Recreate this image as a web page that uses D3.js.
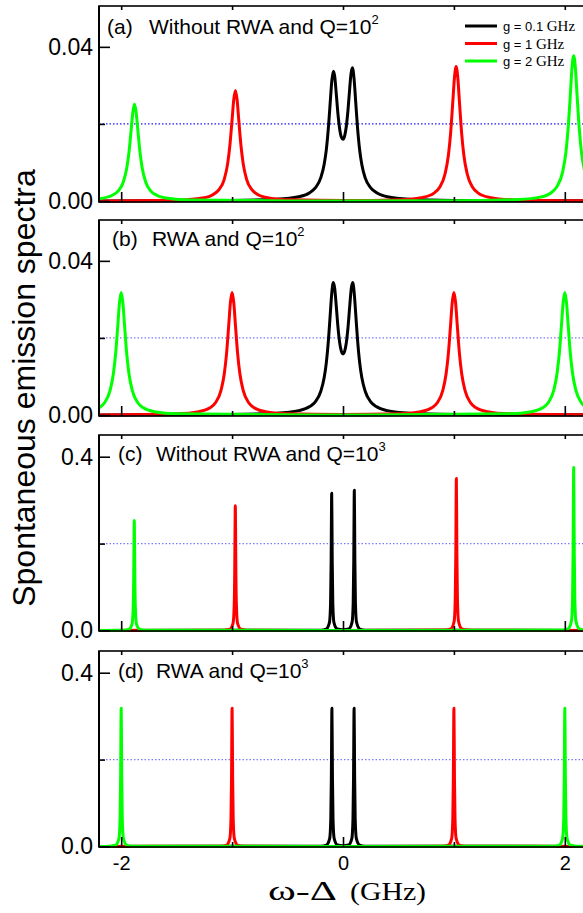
<!DOCTYPE html>
<html><head><meta charset="utf-8">
<script src="https://cdn.jsdelivr.net/npm/d3@7"></script>
<style>body{margin:0;background:#fff;} svg{display:block;}</style>
</head><body>
<svg id="chart" width="583" height="913"></svg>
<script>
// ---------------- data ----------------
const seriesLabels = ["g = 0.1 ", "g = 1 ", "g = 2 "];
const seriesUnit = "GHz";
const seriesColors = ["#000000", "#ff0000", "#00ff00"];
const panelTags = ["(a)", "(b)", "(c)", "(d)"];
const panelTexts = ["Without RWA and Q=10", "RWA and Q=10", "Without RWA and Q=10", "RWA and Q=10"];
const panelExps = ["2", "2", "3", "3"];
const xMajorTicks = [-2, 0, 2];
const xMinorTicks = [-1, 1];
const yTicksQ2 = [0, 0.04];
const yTicksQ3 = [0, 0.4];
const yRefQ2 = 0.02;
const yRefQ3 = 0.2;

// (a) Without RWA, Q=10^2
const aBlack = [[-2.2,0.00003],[-1.0,0.00016],[-0.6,0.00046],[-0.4,0.00112],[-0.3,0.00216],[-0.25,0.00338],[-0.2,0.00607],[-0.17,0.0095],[-0.15,0.0134],[-0.13,0.0196],[-0.115,0.0257],[-0.1,0.0314],[-0.087,0.0337],[-0.075,0.0324],[-0.06,0.0276],[-0.045,0.0224],[-0.03,0.0187],[-0.015,0.0166],[0,0.0160],[0.015,0.0169],[0.03,0.0194],[0.045,0.0236],[0.06,0.0290],[0.072,0.0330],[0.085,0.0346],[0.1,0.0316],[0.115,0.0255],[0.13,0.0194],[0.15,0.0133],[0.17,0.0094],[0.2,0.0060],[0.25,0.0034],[0.3,0.0022],[0.4,0.0011],[0.6,0.00046],[1.0,0.00016],[2.2,0.00003]];
const aRed = [[-2.2,0.00003],[-1.47,0.00028],[-1.27,0.00077],[-1.17,0.0017],[-1.12,0.0029],[-1.07,0.0057],[-1.04,0.0097],[-1.02,0.0144],[-1.0,0.0211],[-0.985,0.0263],[-0.97,0.0287],[-0.955,0.0263],[-0.94,0.0211],[-0.92,0.0144],[-0.9,0.0097],[-0.87,0.0057],[-0.82,0.0029],[-0.77,0.0017],[-0.67,0.0008],[-0.47,0.0003],[0.02,0.0001],[0.52,0.00035],[0.72,0.00094],[0.82,0.00205],[0.87,0.0035],[0.92,0.007],[0.95,0.0118],[0.97,0.0175],[0.99,0.0257],[1.005,0.032],[1.02,0.0349],[1.035,0.032],[1.05,0.0257],[1.07,0.0175],[1.09,0.0118],[1.12,0.007],[1.17,0.0035],[1.22,0.00205],[1.32,0.00094],[1.52,0.00035],[2.2,0.00005]];
const aGreen = [[-2.2,0.0006],[-2.08,0.0015],[-2.03,0.0025],[-1.98,0.005],[-1.95,0.0085],[-1.93,0.01255],[-1.91,0.01845],[-1.895,0.023],[-1.88,0.0251],[-1.865,0.023],[-1.85,0.01845],[-1.83,0.01255],[-1.81,0.0085],[-1.78,0.005],[-1.73,0.0025],[-1.68,0.0015],[-1.58,0.0007],[-1.38,0.00025],[-0.5,0.00003],[1.0,0.00005],[1.58,0.00037],[1.78,0.001],[1.88,0.0022],[1.93,0.0038],[1.98,0.0075],[2.01,0.0127],[2.03,0.0189],[2.05,0.0277],[2.065,0.0346],[2.08,0.0377],[2.095,0.0346],[2.11,0.0277],[2.13,0.0189],[2.15,0.0127],[2.18,0.0075],[2.23,0.0038],[2.28,0.0022]];

// (b) RWA, Q=10^2
const bBlack = [[-2.2,0.00003],[-1.0,0.00016],[-0.6,0.00047],[-0.4,0.00113],[-0.3,0.00219],[-0.25,0.00343],[-0.2,0.00616],[-0.17,0.00965],[-0.15,0.01367],[-0.13,0.01995],[-0.115,0.0261],[-0.1,0.0320],[-0.087,0.0344],[-0.075,0.0329],[-0.06,0.0280],[-0.045,0.0227],[-0.03,0.01879],[-0.015,0.01656],[0,0.01584],[0.015,0.01656],[0.03,0.01879],[0.045,0.0227],[0.06,0.0280],[0.075,0.0329],[0.087,0.0344],[0.1,0.0320],[0.115,0.0261],[0.13,0.01995],[0.15,0.01367],[0.17,0.00965],[0.2,0.00616],[0.25,0.00343],[0.3,0.00219],[0.4,0.00113],[0.6,0.00047],[1.0,0.00016],[2.2,0.00003]];
const bRed = [[-2.2,0.00003],[-1.5,0.00031],[-1.3,0.00086],[-1.2,0.00187],[-1.15,0.00318],[-1.1,0.00636],[-1.07,0.01075],[-1.05,0.0159],[-1.03,0.0234],[-1.015,0.0292],[-1.0,0.0318],[-0.985,0.0292],[-0.97,0.0234],[-0.95,0.0159],[-0.93,0.01075],[-0.9,0.00636],[-0.85,0.00318],[-0.8,0.00187],[-0.7,0.00086],[-0.5,0.00031],[0,0.0001],[0.5,0.00031],[0.7,0.00086],[0.8,0.00187],[0.85,0.00318],[0.9,0.00636],[0.93,0.01075],[0.95,0.0159],[0.97,0.0234],[0.985,0.0292],[1.0,0.0318],[1.015,0.0292],[1.03,0.0234],[1.05,0.0159],[1.07,0.01075],[1.1,0.00636],[1.15,0.00318],[1.2,0.00187],[1.3,0.00086],[1.5,0.00031],[2.2,0.00003]];
const bGreen = [[-2.3,0.00086],[-2.2,0.00187],[-2.15,0.00318],[-2.1,0.00636],[-2.07,0.01075],[-2.05,0.0159],[-2.03,0.0234],[-2.015,0.0292],[-2.0,0.0318],[-1.985,0.0292],[-1.97,0.0234],[-1.95,0.0159],[-1.93,0.01075],[-1.9,0.00636],[-1.85,0.00318],[-1.8,0.00187],[-1.7,0.00086],[-1.5,0.00031],[0,0.00002],[1.5,0.00031],[1.7,0.00086],[1.8,0.00187],[1.85,0.00318],[1.9,0.00636],[1.93,0.01075],[1.95,0.0159],[1.97,0.0234],[1.985,0.0292],[2.0,0.0318],[2.015,0.0292],[2.03,0.0234],[2.05,0.0159],[2.07,0.01075],[2.1,0.00636],[2.15,0.00318],[2.2,0.00187],[2.3,0.00086]];

// (c) Without RWA, Q=10^3
const cBlack = [[-2.2,0.0001],[-0.202,0.0008],[-0.152,0.0031],[-0.122,0.0186],[-0.112,0.0632],[-0.107,0.158],[-0.105,0.232],[-0.102,0.316],[-0.099,0.232],[-0.097,0.158],[-0.092,0.0632],[-0.082,0.0186],[-0.052,0.0033],[0,0.0016],[0.052,0.0034],[0.082,0.019],[0.092,0.0646],[0.097,0.1615],[0.099,0.237],[0.102,0.323],[0.105,0.237],[0.107,0.1615],[0.112,0.0646],[0.122,0.019],[0.152,0.0032],[0.202,0.0008],[2.2,0.0001]];
const cRed = [[-2.2,0.0001],[-1.071,0.0007],[-1.021,0.0028],[-0.991,0.0169],[-0.981,0.0574],[-0.976,0.1435],[-0.974,0.211],[-0.971,0.287],[-0.968,0.211],[-0.966,0.1435],[-0.961,0.0574],[-0.951,0.0169],[-0.921,0.0028],[-0.871,0.0007],[0,0.0001],[0.922,0.0009],[0.972,0.0035],[1.002,0.0206],[1.012,0.070],[1.017,0.175],[1.019,0.257],[1.022,0.350],[1.025,0.257],[1.027,0.175],[1.032,0.070],[1.042,0.0206],[1.072,0.0035],[1.122,0.0009],[2.2,0.0001]];
const cGreen = [[-2.2,0.0001],[-1.982,0.0006],[-1.932,0.0025],[-1.902,0.0149],[-1.892,0.0506],[-1.887,0.1265],[-1.885,0.186],[-1.882,0.253],[-1.879,0.186],[-1.877,0.1265],[-1.872,0.0506],[-1.862,0.0149],[-1.832,0.0025],[-1.782,0.0006],[0,0.0001],[1.98,0.0009],[2.03,0.0037],[2.06,0.022],[2.07,0.075],[2.075,0.1875],[2.077,0.276],[2.08,0.375],[2.083,0.276],[2.085,0.1875],[2.09,0.075],[2.1,0.022],[2.13,0.0037],[2.18,0.0009],[2.2,0.0006]];

// (d) RWA, Q=10^3
const dBlack = [[-2.2,0.0001],[-0.2,0.0008],[-0.15,0.0031],[-0.12,0.0187],[-0.11,0.0636],[-0.105,0.159],[-0.103,0.234],[-0.1,0.318],[-0.097,0.234],[-0.095,0.159],[-0.09,0.0636],[-0.08,0.0187],[-0.05,0.0033],[0,0.0016],[0.05,0.0033],[0.08,0.0187],[0.09,0.0636],[0.095,0.159],[0.097,0.234],[0.1,0.318],[0.103,0.234],[0.105,0.159],[0.11,0.0636],[0.12,0.0187],[0.15,0.0031],[0.2,0.0008],[2.2,0.0001]];
const dRed = [[-2.2,0.0001],[-1.1,0.0008],[-1.05,0.0031],[-1.02,0.0187],[-1.01,0.0636],[-1.005,0.159],[-1.003,0.234],[-1.0,0.318],[-0.997,0.234],[-0.995,0.159],[-0.99,0.0636],[-0.98,0.0187],[-0.95,0.0031],[-0.9,0.0008],[0,0.0001],[0.9,0.0008],[0.95,0.0031],[0.98,0.0187],[0.99,0.0636],[0.995,0.159],[0.997,0.234],[1.0,0.318],[1.003,0.234],[1.005,0.159],[1.01,0.0636],[1.02,0.0187],[1.05,0.0031],[1.1,0.0008],[2.2,0.0001]];
const dGreen = [[-2.2,0.0002],[-2.1,0.0008],[-2.05,0.0031],[-2.02,0.0187],[-2.01,0.0636],[-2.005,0.159],[-2.003,0.234],[-2.0,0.318],[-1.997,0.234],[-1.995,0.159],[-1.99,0.0636],[-1.98,0.0187],[-1.95,0.0031],[-1.9,0.0008],[0,0.0001],[1.9,0.0008],[1.95,0.0031],[1.98,0.0187],[1.99,0.0636],[1.995,0.159],[1.997,0.234],[2.0,0.318],[2.003,0.234],[2.005,0.159],[2.01,0.0636],[2.02,0.0187],[2.05,0.0031],[2.1,0.0008],[2.2,0.0002]];

// ---------------- layout ----------------
const svg = d3.select("#chart");
const plotLeft = 99, plotRight = 587, panelH = 196;
const panelTops = [6, 220, 435, 651];
const x = d3.scaleLinear().domain([-2.2, 2.2]).range([plotLeft, plotRight]);

const panels = [
  {series: [aBlack, aRed, aGreen], yDom: [-0.00026, 0.0506], ticks: yTicksQ2, ref: yRefQ2, fmt: d3.format(".2f"), refColor: "#1a1aff", tagX: 107, textX: 149, base: 34},
  {series: [bBlack, bRed, bGreen], yDom: [-0.00026, 0.0506], ticks: yTicksQ2, ref: yRefQ2, fmt: d3.format(".2f"), refColor: "#7a7aff", tagX: 112, textX: 152, base: 246},
  {series: [cBlack, cRed, cGreen], yDom: [-0.0012, 0.45], ticks: yTicksQ3, ref: yRefQ3, fmt: d3.format(".1f"), refColor: "#7a7aff", tagX: 118, textX: 156, base: 461},
  {series: [dBlack, dRed, dGreen], yDom: [-0.0012, 0.45], ticks: yTicksQ3, ref: yRefQ3, fmt: d3.format(".1f"), refColor: "#7a7aff", tagX: 118, textX: 156, base: 678}
];

const sans = "'Liberation Sans', Arial, sans-serif";
const serif = "'Liberation Serif', 'Times New Roman', serif";

svg.append("defs").append("clipPath").attr("id", "clip")
  .append("rect").attr("x", plotLeft).attr("y", 0).attr("width", plotRight - plotLeft).attr("height", 913);

panels.forEach((p, i) => {
  const top = panelTops[i];
  const y = d3.scaleLinear().domain(p.yDom).range([top + panelH, top]);
  const g = svg.append("g");

  // dotted reference line
  g.append("line")
    .attr("x1", plotLeft).attr("x2", plotRight)
    .attr("y1", y(p.ref)).attr("y2", y(p.ref))
    .attr("stroke", p.refColor).attr("stroke-width", 1.2)
    .attr("stroke-dasharray", "1.5,2");

  // curves
  const line = d3.line().x(d => x(d[0])).y(d => y(d[1])).curve(d3.curveMonotoneX);
  const cg = g.append("g").attr("clip-path", "url(#clip)");
  p.series.forEach((s, k) => {
    cg.append("path").datum(s).attr("d", line)
      .attr("fill", "none").attr("stroke", seriesColors[k])
      .attr("stroke-width", 3).attr("stroke-linejoin", "round");
  });

  // axes
  const axStyle = sel => {
    sel.select(".domain").remove();
    sel.selectAll(".tick line").attr("stroke", "#000").attr("stroke-width", 1.6);
    sel.selectAll("text").attr("fill", "#000").attr("font-family", sans);
  };
  g.append("g").attr("transform", `translate(${plotLeft},0)`)
    .call(d3.axisLeft(y).tickValues(p.ticks).tickSize(-11).tickPadding(6).tickFormat(p.fmt))
    .call(axStyle).call(s => s.selectAll("text").attr("font-size", 23));
  g.append("g").attr("transform", `translate(${plotLeft},0)`)
    .call(d3.axisLeft(y).tickValues([p.ref]).tickSize(-6).tickFormat(""))
    .call(axStyle);
  g.append("g").attr("transform", `translate(0,${top + panelH})`)
    .call(d3.axisBottom(x).tickValues(xMajorTicks).tickSize(-10).tickPadding(9)
      .tickFormat(i === 3 ? (d => String(d)) : ""))
    .call(axStyle).call(s => s.selectAll("text").attr("font-size", 20));
  g.append("g").attr("transform", `translate(0,${top + panelH})`)
    .call(d3.axisBottom(x).tickValues(xMinorTicks).tickSize(-5).tickFormat(""))
    .call(axStyle);
  g.append("g").attr("transform", `translate(0,${top})`)
    .call(d3.axisTop(x).tickValues(xMajorTicks.concat(xMinorTicks)).tickSize(-4).tickFormat(""))
    .call(axStyle);

  // frame
  g.append("rect").attr("x", plotLeft).attr("y", top)
    .attr("width", plotRight - plotLeft).attr("height", panelH)
    .attr("fill", "none").attr("stroke", "#000").attr("stroke-width", 1.6);
  g.append("line").attr("x1", plotLeft).attr("x2", plotLeft)
    .attr("y1", top).attr("y2", top + panelH).attr("stroke", "#000").attr("stroke-width", 2);

  // panel title
  g.append("text").attr("x", p.tagX).attr("y", p.base)
    .attr("font-family", sans).attr("font-size", 21).text(panelTags[i]);
  const t = g.append("text").attr("x", p.textX).attr("y", p.base)
    .attr("font-family", sans).attr("font-size", 21);
  t.append("tspan").text(panelTexts[i]);
  t.append("tspan").attr("dy", -10).attr("font-size", 13).text(panelExps[i]);
});

// legend (panel a)
const legY = [26, 43.5, 61];
seriesLabels.forEach((lab, k) => {
  svg.append("line").attr("x1", 465).attr("x2", 497).attr("y1", legY[k]).attr("y2", legY[k])
    .attr("stroke", seriesColors[k]).attr("stroke-width", 3);
  const t = svg.append("text").attr("x", 503).attr("y", legY[k] + 5);
  t.append("tspan").attr("font-family", sans).attr("font-size", 13).text(lab);
  t.append("tspan").attr("font-family", serif).attr("font-size", 15).text(seriesUnit);
});

// axis titles
svg.append("text")
  .attr("transform", "translate(35,388) rotate(-90)")
  .attr("text-anchor", "middle")
  .attr("font-family", sans).attr("font-size", 32)
  .text("Spontaneous emission spectra");

svg.append("text").attr("x", 268).attr("y", 900)
  .attr("font-family", serif).attr("font-size", 28)
  .attr("textLength", 69).attr("lengthAdjust", "spacingAndGlyphs")
  .text("ω-Δ");
svg.append("text").attr("x", 350).attr("y", 900)
  .attr("font-family", serif).attr("font-size", 25)
  .attr("textLength", 76).attr("lengthAdjust", "spacingAndGlyphs")
  .text("(GHz)");
</script>
</body></html>
